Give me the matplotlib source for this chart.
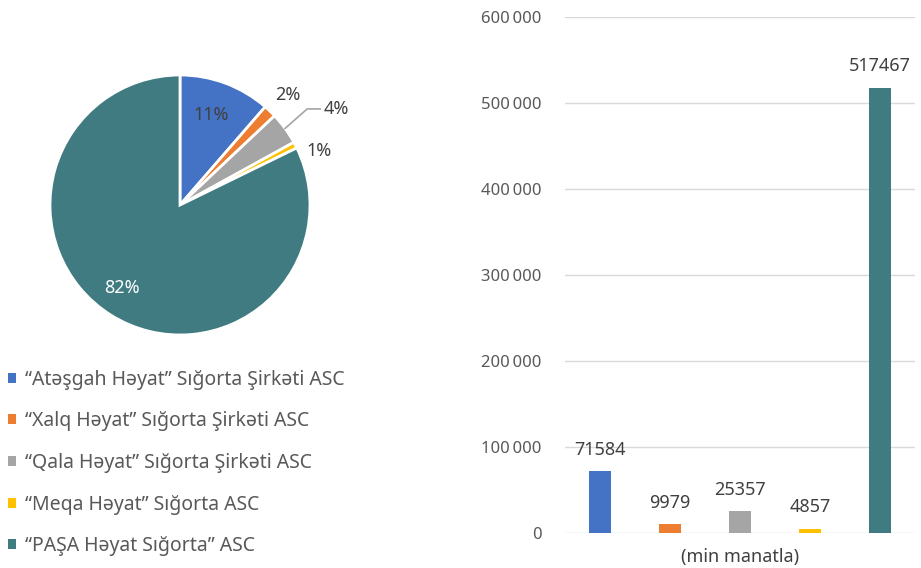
import numpy as np
import matplotlib
matplotlib.use('Agg')
import matplotlib.pyplot as plt
from matplotlib.patches import Patch
from matplotlib.ticker import FuncFormatter

plt.rcParams['font.family'] = ['Noto Sans', 'DejaVu Sans']

companies = ['“Atəşgah Həyat” Sığorta Şirkəti ASC',
             '“Xalq Həyat” Sığorta Şirkəti ASC',
             '“Qala Həyat” Sığorta Şirkəti ASC',
             '“Meqa Həyat” Sığorta ASC',
             '“PAŞA Həyat Sığorta” ASC']
values = [71584, 9979, 25357, 4857, 517467]
pct_labels = ['11%', '2%', '4%', '1%', '82%']
colors = ['#4472C4', '#ED7D31', '#A5A5A5', '#FFC000', '#3F7B80']
y_ticks = [0, 100000, 200000, 300000, 400000, 500000, 600000]
xlabel = '(min manatla)'

txt = '#595959'
fs = 13

fig = plt.figure(figsize=(9.21, 5.68), dpi=100)

# ---- pie
axp = fig.add_axes([50/921, (568-205-130)/568, 260/921, 260/568])
wedges, _ = axp.pie(values, colors=colors, startangle=90, counterclock=False,
                    wedgeprops=dict(edgecolor='white', linewidth=2))
axp.set_xlim(-1, 1)
axp.set_ylim(-1, 1)
axp.set_aspect('equal')
axp.axis('off')

for i, w in enumerate(wedges):
    ang = np.deg2rad((w.theta1 + w.theta2) / 2)
    c, s = np.cos(ang), np.sin(ang)
    if i == 0:
        axp.text(0.74*c - 0.02, 0.74*s, pct_labels[i], ha='center', va='center', fontsize=fs, color='#404040')
    elif i == 4:
        axp.text(0.75*c - 0.05, 0.75*s, pct_labels[i], ha='center', va='center', fontsize=fs, color='white')
    elif i == 1:
        axp.text(1.2*c, 1.2*s - 0.02, pct_labels[i], ha='center', va='center', fontsize=fs, color='#404040')
    elif i == 2:
        x0, y0 = 1.0*c, 1.0*s
        axp.plot([x0, x0+0.17, x0+0.27], [y0, y0+0.15, y0+0.15], color='#A5A5A5', lw=1.2, clip_on=False)
        axp.text(x0+0.3, y0+0.15, pct_labels[i], ha='left', va='center', fontsize=fs, color='#404040')
    else:
        axp.text(1.1*c + 0.09, 1.1*s - 0.09, pct_labels[i], ha='center', va='center', fontsize=fs, color='#404040')

handles = [Patch(facecolor=col, edgecolor='none') for col in colors]
fig.legend(handles, companies, loc='upper left', bbox_to_anchor=(0.0, 1 - 362/568),
           frameon=False, fontsize=14, labelcolor=txt, handlelength=0.42, handleheight=0.42,
           handletextpad=0.47, labelspacing=1.11, borderaxespad=0)

# ---- bars
axb = fig.add_axes([565/921, 35/568, 350/921, 516/568])
x = np.arange(len(values))
axb.bar(x, values, width=0.31, color=colors, zorder=2)
for xi, v in zip(x, values):
    axb.annotate(str(v), (xi, v), xytext=(0, 9), textcoords='offset points',
                 ha='center', va='bottom', fontsize=fs, color='#404040')
axb.set_xlim(-0.5, 4.5)
axb.set_ylim(0, 600000)
axb.set_yticks(y_ticks)
axb.yaxis.set_major_formatter(FuncFormatter(lambda v, p: f'{int(v):,}'.replace(',', '\u2009')))
axb.set_xticks([])
axb.grid(axis='y', color='#D9D9D9', lw=1, zorder=0)
for sp in axb.spines.values():
    sp.set_visible(False)
axb.tick_params(axis='y', length=0, pad=17, labelsize=12, labelcolor=txt)
axb.set_xlabel(xlabel, fontsize=fs, color='#404040', labelpad=11)

fig.savefig('out.png', dpi=100)
